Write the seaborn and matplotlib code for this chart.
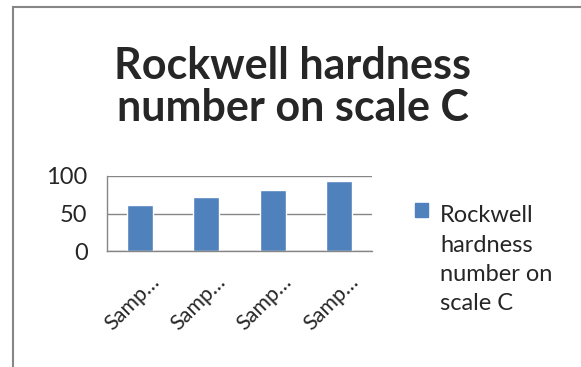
import matplotlib
matplotlib.use("Agg")
import matplotlib.pyplot as plt
import matplotlib.transforms as mtransforms
from matplotlib.patches import Rectangle
import seaborn as sns
import pandas as pd

# data
samples = ["Sample 1", "Sample 2", "Sample 3", "Sample 4"]
tick_labels = ["Samp…", "Samp…", "Samp…", "Samp…"]
hardness = [61, 72, 82, 93]
series_name = "Rockwell hardness number on scale C"

df = pd.DataFrame({"sample": samples, "hrc": hardness})

sns.set_style("white")
plt.rcParams["font.family"] = ["Lato", "DejaVu Sans"]

blue = "#4F81BD"
grey = "#868686"

fig = plt.figure(figsize=(5.81, 3.67), dpi=100)
ax = fig.add_axes([107 / 581, 1 - 251 / 367, 265 / 581, 75 / 367])

sns.barplot(data=df, x="sample", y="hrc", color=blue, width=0.39,
            saturation=1, ax=ax)

ax.set_ylim(0, 100)
ax.set_xlim(-0.5, 3.5)
ax.set_yticks([0, 50, 100])
ax.set_xlabel("")
ax.set_ylabel("")
ax.yaxis.grid(True, color=grey, linewidth=1)
ax.set_axisbelow(True)
for s in ["top", "right"]:
    ax.spines[s].set_visible(False)
for s in ["left", "bottom"]:
    ax.spines[s].set_color(grey)
    ax.spines[s].set_linewidth(1)

ax.tick_params(axis="y", length=6, color=grey, labelsize=17, pad=8)
ax.set_xticks([-0.5, 0.5, 1.5, 2.5, 3.5], minor=True)
ax.tick_params(axis="x", which="minor", length=6, color=grey, width=1)
ax.tick_params(axis="x", which="major", length=0, labelsize=15.5, pad=15)
ax.set_xticklabels(tick_labels, rotation=45, ha="right", rotation_mode="anchor")
offset = mtransforms.ScaledTranslation(9 / 100, 0, fig.dpi_scale_trans)
for lab in ax.get_xticklabels():
    lab.set_transform(lab.get_transform() + offset)

# title
fig.text(293 / 581, 1 - 87 / 367, "Rockwell hardness\nnumber on scale C",
         ha="center", va="center", fontsize=31, fontweight="bold",
         linespacing=1.05)

# legend (handle aligned with first text line)
fig.patches.append(Rectangle((415 / 581, 1 - 217 / 367), 13 / 581, 14 / 367,
                             transform=fig.transFigure, color=blue))
fig.text(440 / 581, 1 - 205 / 367, "Rockwell\nhardness\nnumber on\nscale C",
         ha="left", va="top", fontsize=17, linespacing=1.5)

# chart frame
fig.patches.append(Rectangle((13 / 581, -0.1), 1.2, 1 - 7 / 367 + 0.1,
                             transform=fig.transFigure, fill=False,
                             edgecolor=grey, linewidth=1.5))

fig.savefig("out.png", dpi=100)
